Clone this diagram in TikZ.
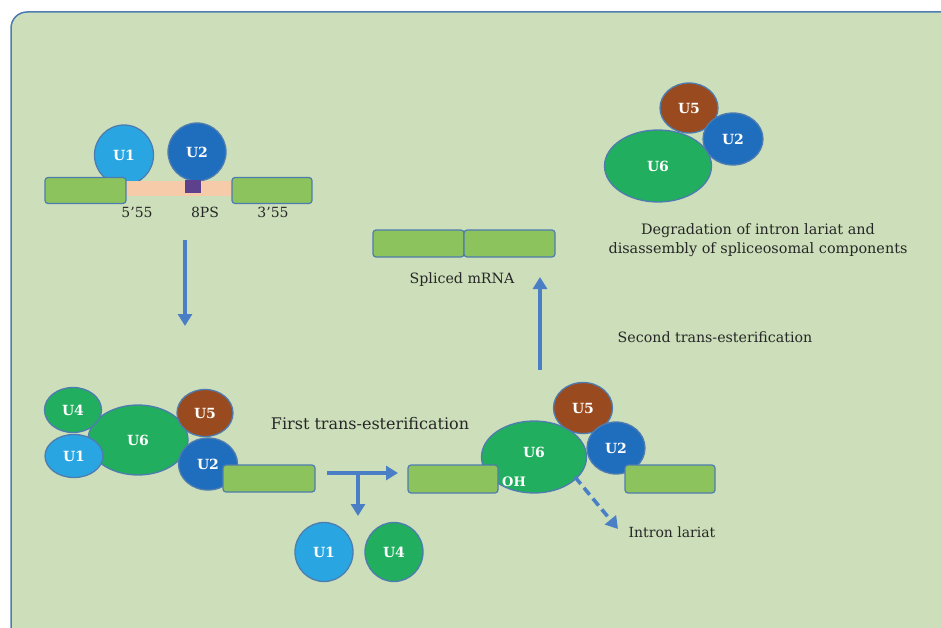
\documentclass[tikz,border=0pt]{standalone}
\usepackage{fontspec}
\setmainfont{DejaVu Serif}
\usetikzlibrary{arrows.meta,shapes.geometric}
\definecolor{panel}{HTML}{CCDFBA}
\definecolor{edge}{HTML}{4F7CB0}
\definecolor{exongreen}{HTML}{8CC35C}
\definecolor{uone}{HTML}{29A6E1}
\definecolor{utwo}{HTML}{1F6EBE}
\definecolor{usix}{HTML}{21AE5E}
\definecolor{ufive}{HTML}{9A4A1F}
\definecolor{flowblue}{HTML}{4A7FC6}
\definecolor{intron}{HTML}{F6CBA9}
\definecolor{bps}{HTML}{5D418C}
\definecolor{ink}{HTML}{262626}

\begin{document}
\begin{tikzpicture}[x=1pt, y=-1pt,
    snrna/.style={ellipse, draw=edge, line width=1.3pt, fill=#1, inner sep=0pt,
        text=white, font=\bfseries\fontsize{14}{16}\selectfont},
    exon/.style={draw=edge, fill=exongreen, line width=1.2pt, rounded corners=3pt,
        minimum height=26pt, inner sep=0pt},
    flow/.style={draw=flowblue, line width=3.6pt,
        -{Triangle[length=12pt,width=14pt]}},
    lbl/.style={text=ink, inner sep=1pt}]
    \useasboundingbox (0,0) rectangle (941,628);
    \fill[panel, draw=edge, line width=1.5pt, rounded corners=16pt] (11,12) rectangle (960,648);

    % pre-mRNA with U1 and U2
    \node[snrna=uone, minimum width=59pt, minimum height=60pt] (preUone) at (124,155) {U1};
    \node[snrna=utwo, minimum width=58pt, minimum height=58pt] (preUtwo) at (197,152) {U2};
    \fill[intron] (124,181) rectangle (234,196);
    \node[exon, minimum width=81pt] (exA) at (85.5,190.5) {};
    \node[exon, minimum width=80pt] (exB) at (272,190.5) {};
    \fill[bps] (185,180) rectangle (201,193);
    \foreach \t/\x in {5’55/137, 8PS/205, 3’55/273}
        \node[lbl, font=\fontsize{14}{16}\selectfont] at (\x,212) {\t};

    \coordinate (downA) at (185,240);
    \coordinate (downB) at (185,326);
    \draw[flow] (downA) -- (downB);

    % assembled spliceosome
    \node[snrna=usix, minimum width=100pt, minimum height=70pt] (sixA) at (138,440) {U6};
    \node[snrna=usix, minimum width=57pt, minimum height=45pt] (fourA) at (73,410) {U4};
    \node[snrna=uone, minimum width=58pt, minimum height=43pt] (oneA) at (74,456) {U1};
    \node[snrna=ufive, minimum width=56pt, minimum height=47pt] (fiveA) at (205,413) {U5};
    \node[snrna=utwo, minimum width=59pt, minimum height=52pt] (twoA) at (208,464) {U2};
    \node[exon, minimum width=92pt, minimum height=27pt] (exC) at (269,478.5) {};

    \node[lbl, font=\fontsize{16}{19}\selectfont] (first) at (370,424) {First trans-esterification};

    \coordinate (horA) at (327,473);
    \coordinate (horB) at (398,473);
    \coordinate (brA) at (358,473);
    \coordinate (brB) at (358,516);
    \draw[flow] (horA) -- (horB);
    \draw[flow] (brA) -- (brB);

    % released U1 and U4
    \node[snrna=uone, minimum width=58pt, minimum height=59pt] (oneB) at (324,552) {U1};
    \node[snrna=usix, minimum width=58pt, minimum height=59pt] (fourB) at (394,552) {U4};

    % after first step
    \node[snrna=ufive, minimum width=59pt, minimum height=51pt] (fiveB) at (583,408) {U5};
    \node[snrna=usix, minimum width=105pt, minimum height=72pt] (sixB) at (534,457) {};
    \node[lbl, text=white, font=\bfseries\fontsize{14}{16}\selectfont] at (534,452) {U6};
    \node[snrna=utwo, minimum width=58pt, minimum height=52pt] (twoB) at (616,448) {U2};
    \node[exon, minimum width=90pt, minimum height=28pt] (exD) at (453,479) {};
    \node[exon, minimum width=90pt, minimum height=28pt] (exE) at (670,479) {};
    \node[lbl, text=white, font=\bfseries\fontsize{13}{15}\selectfont] (oh) at (514,482) {OH};

    \coordinate (lariatA) at (575,477);
    \coordinate (lariatB) at (618,529);
    \draw[draw=flowblue, line width=3.6pt, dash pattern=on 9pt off 5pt,
        -{Triangle[length=12pt,width=14pt]}] (lariatA) -- (lariatB);
    \node[lbl, font=\fontsize{14}{16}\selectfont] (lariat) at (672,532) {Intron lariat};

    \coordinate (upA) at (540,370);
    \coordinate (upB) at (540,277);
    \draw[flow] (upA) -- (upB);
    \node[lbl, font=\fontsize{14.2}{17}\selectfont] (second) at (715,337) {Second trans-esterification};

    % spliced product
    \node[exon, minimum width=91pt, minimum height=27pt] (exF) at (418.5,243.5) {};
    \node[exon, minimum width=91pt, minimum height=27pt] (exG) at (509.5,243.5) {};
    \node[lbl, font=\fontsize{14.2}{17}\selectfont] (mrna) at (462,280) {Spliced mRNA};

    % disassembly
    \node[snrna=ufive, minimum width=58pt, minimum height=50pt] (fiveC) at (689,108) {U5};
    \node[snrna=utwo, minimum width=60pt, minimum height=52pt] (twoC) at (733,139) {U2};
    \node[snrna=usix, minimum width=107pt, minimum height=72pt] (sixC) at (658,166) {U6};
    \node[lbl, align=center, font=\fontsize{14.4}{18.5}\selectfont] (degr) at (758,240)
        {Degradation of intron lariat and\\disassembly of spliceosomal components};
\end{tikzpicture}
\end{document}
